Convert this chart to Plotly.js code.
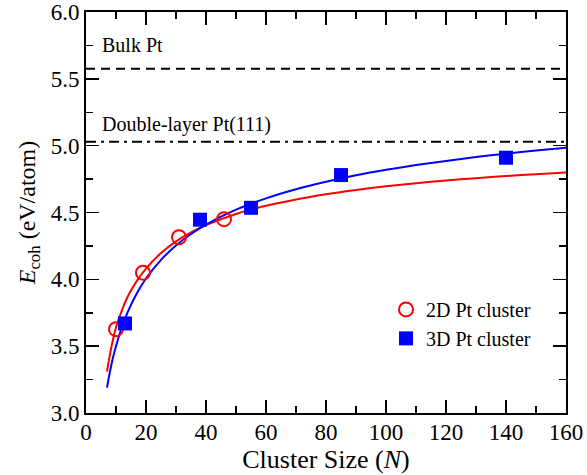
<!DOCTYPE html>
<html>
<head>
<meta charset="utf-8">
<script src="https://cdn.plot.ly/plotly-3.0.1.min.js"></script>
<style>html,body{margin:0;padding:0;background:#fff;}#chart{width:587px;height:475px;}</style>
</head>
<body>
<div id="chart"></div>
<script>
// Data points
const n2D = [10, 19, 31, 46];
const e2D = [3.627, 4.05, 4.315, 4.45];
const n3D = [13, 38, 55, 85, 140];
const e3D = [3.67, 4.446, 4.535, 4.78, 4.91];

// Fit curves
const fit2Dx = [7, 8, 9, 10, 12, 14, 17, 20, 25, 30, 35, 40, 50, 60, 70, 80, 90, 100, 110, 120, 130, 140, 150, 160];
const fit2Dy = [3.31, 3.44, 3.55, 3.64, 3.77, 3.875, 3.99, 4.08, 4.197, 4.284, 4.352, 4.406, 4.489, 4.55, 4.598, 4.637, 4.669, 4.696, 4.719, 4.739, 4.757, 4.773, 4.787, 4.80];
const fit3Dx = [7, 8, 9, 10, 12, 14, 17, 20, 25, 30, 35, 40, 50, 60, 70, 80, 90, 100, 110, 120, 130, 140, 150, 160];
const fit3Dy = [3.19, 3.31, 3.415, 3.50, 3.645, 3.76, 3.897, 4.006, 4.146, 4.253, 4.339, 4.41, 4.521, 4.606, 4.674, 4.73, 4.778, 4.819, 4.855, 4.886, 4.915, 4.94, 4.964, 4.985];

// Reference levels
const refNames = ["Bulk Pt", "Double-layer Pt(111)"];
const refValues = [5.575, 5.03];
const xRange = [0, 160];

const traces = [
  {x: fit2Dx, y: fit2Dy, mode: 'lines', line: {color: '#ff0000', width: 2, shape: 'spline', smoothing: 0.8}, showlegend: false, hoverinfo: 'skip'},
  {x: fit3Dx, y: fit3Dy, mode: 'lines', line: {color: '#0000ff', width: 2, shape: 'spline', smoothing: 0.8}, showlegend: false, hoverinfo: 'skip'},
  {x: xRange, y: [refValues[0], refValues[0]], mode: 'lines', line: {color: '#000', width: 2, dash: '9px,6px'}, showlegend: false},
  {x: xRange, y: [refValues[1], refValues[1]], mode: 'lines', line: {color: '#000', width: 2, dash: '10px,5px,3px,5px'}, showlegend: false},
  {x: n2D, y: e2D, mode: 'markers', name: '2D Pt cluster',
   marker: {symbol: 'circle-open', size: 14, color: '#ff0000', line: {width: 2, color: '#ff0000'}}},
  {x: n3D, y: e3D, mode: 'markers', name: '3D Pt cluster',
   marker: {symbol: 'square', size: 14, color: '#0000ff', line: {width: 0}}}
];

const font = '"Liberation Serif", "Times New Roman", serif';
const layout = {
  width: 587, height: 475,
  margin: {l: 86, r: 21, t: 12, b: 62},
  paper_bgcolor: '#fff', plot_bgcolor: '#fff',
  font: {family: font, color: '#000', size: 23},
  showlegend: true,
  legend: {x: 0.625, y: 0.307, xanchor: 'left', yanchor: 'top', bgcolor: 'rgba(0,0,0,0)',
           font: {family: font, size: 20}, tracegroupgap: 0, itemwidth: 30},
  xaxis: {
    range: xRange, dtick: 20, tick0: 0, ticks: 'inside', ticklen: 13, tickwidth: 1.5, tickcolor: '#000',
    showline: true, linewidth: 2, linecolor: '#000', mirror: 'ticks', showgrid: false, zeroline: false,
    minor: {dtick: 10, ticks: 'inside', ticklen: 7, tickwidth: 1.5, tickcolor: '#000', showgrid: false},
    tickfont: {family: font, size: 23}, ticklabelstandoff: -3,
    title: {text: 'Cluster Size (<i>N</i>)', font: {family: font, size: 26}, standoff: 0}
  },
  yaxis: {
    range: [3.0, 6.0], dtick: 0.5, tick0: 3, ticks: 'inside', ticklen: 13, tickwidth: 1.5, tickcolor: '#000',
    tickformat: '.1f',
    showline: true, linewidth: 2, linecolor: '#000', mirror: 'ticks', showgrid: false, zeroline: false,
    minor: {dtick: 0.25, ticks: 'inside', ticklen: 7, tickwidth: 1.5, tickcolor: '#000', showgrid: false},
    tickfont: {family: font, size: 23},
    title: {text: '<i>E</i><sub>coh</sub> (eV/atom)', font: {family: font, size: 24}, standoff: 8}
  },
  annotations: [
    {x: 0.03, xref: 'paper', y: refValues[0], yref: 'y', yshift: 24, text: refNames[0], showarrow: false,
     xanchor: 'left', yanchor: 'middle', font: {family: font, size: 20}},
    {x: 0.03, xref: 'paper', y: refValues[1], yref: 'y', yshift: 17, text: refNames[1], showarrow: false,
     xanchor: 'left', yanchor: 'middle', font: {family: font, size: 20}}
  ]
};

Plotly.newPlot('chart', traces, layout, {displayModeBar: false, staticPlot: true});
</script>
</body>
</html>
